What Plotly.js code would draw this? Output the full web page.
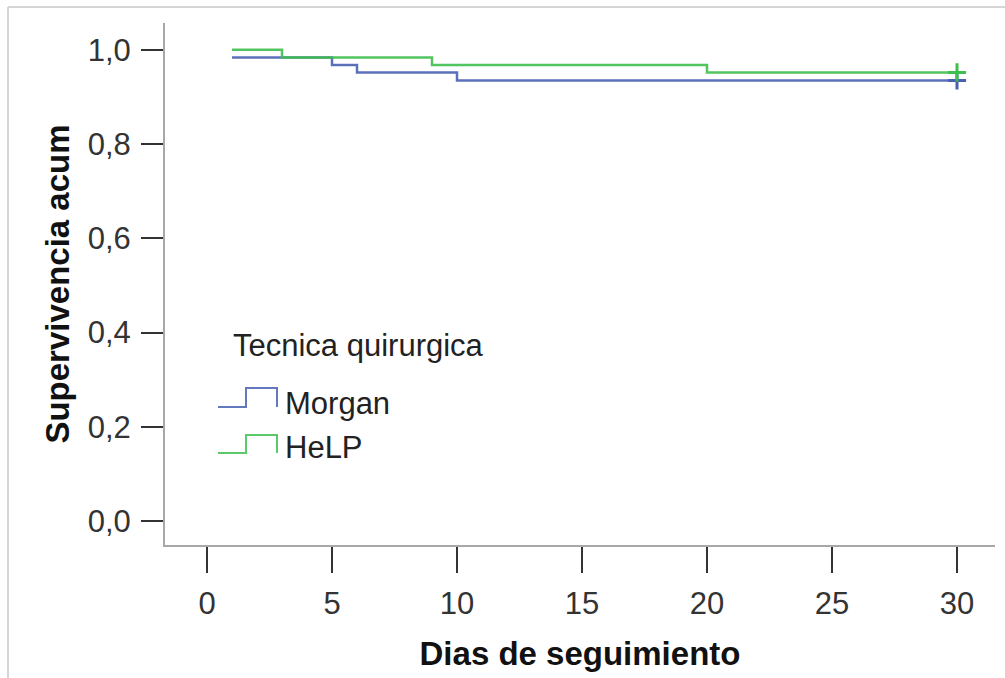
<!DOCTYPE html>
<html>
<head>
<meta charset="utf-8">
<script src="https://cdn.plot.ly/plotly-3.0.1.min.js"></script>
<style>
  html, body { margin: 0; padding: 0; background: #fff; }
  #chart { width: 1005px; height: 678px; }
</style>
</head>
<body>
<div id="chart"></div>
<script>
// ---- Data ----
const seriesNames = ["Morgan", "HeLP"];
const legendTitle = "Tecnica quirurgica";
const morganDays = [1, 5, 6, 10, 30];
const morganSurv = [0.984, 0.968, 0.952, 0.935, 0.935];
const helpDays = [1, 3, 9, 20, 30];
const helpSurv = [1.0, 0.984, 0.968, 0.952, 0.952];
const censorDay = [30];
const morganCensor = [0.935];
const helpCensor = [0.952];
const xTickVals = [0, 5, 10, 15, 20, 25, 30];
const yTickVals = [0, 0.2, 0.4, 0.6, 0.8, 1.0];
const yTickText = ["0,0", "0,2", "0,4", "0,6", "0,8", "1,0"];

// ---- Styles ----
const blue = "#4a61b3";
const green = "#3fbf4f";
const W = 1005, H = 678;
const M = { l: 165, r: 10, t: 23, b: 133 };
const pw = W - M.l - M.r, ph = H - M.t - M.b;
const px = x => (x - M.l) / pw;
const py = y => (H - M.b - y) / ph;
const FONT = "Liberation Sans, Arial, sans-serif";

const traces = [
  { x: morganDays, y: morganSurv, name: seriesNames[0], mode: "lines",
    line: { shape: "hv", color: blue, width: 2.5 }, opacity: 0.9, showlegend: false },
  { x: helpDays, y: helpSurv, name: seriesNames[1], mode: "lines",
    line: { shape: "hv", color: green, width: 2.5 }, opacity: 0.9, showlegend: false },
  { x: censorDay, y: morganCensor, mode: "markers", showlegend: false,
    marker: { symbol: "cross-thin", size: 13, line: { color: blue, width: 3 } } },
  { x: censorDay, y: helpCensor, mode: "markers", showlegend: false,
    marker: { symbol: "cross-thin", size: 13, line: { color: green, width: 3 } } }
];

function stepPath(x0, x1, x2, yLow, yHigh) {
  return `M${px(x0)},${py(yLow)} L${px(x1)},${py(yLow)} L${px(x1)},${py(yHigh)} L${px(x2)},${py(yHigh)} L${px(x2)},${py(yLow)}`;
}

const shapes = [
  // outer frame lines
  { type: "line", xref: "paper", yref: "paper", x0: px(8), x1: px(1005), y0: py(7), y1: py(7),
    line: { color: "#c8c8c8", width: 1.5 } },
  { type: "line", xref: "paper", yref: "paper", x0: px(8), x1: px(8), y0: py(7), y1: py(678),
    line: { color: "#c8c8c8", width: 1.5 } },
  // legend symbols
  { type: "path", xref: "paper", yref: "paper", path: stepPath(218, 246, 277, 407, 388),
    line: { color: blue, width: 2 }, opacity: 0.85 },
  { type: "path", xref: "paper", yref: "paper", path: stepPath(218, 246, 277, 453, 435),
    line: { color: green, width: 2 }, opacity: 0.85 }
];

const annotations = [
  { xref: "paper", yref: "paper", x: px(231), y: py(345), xanchor: "left", yanchor: "middle",
    text: legendTitle, showarrow: false, font: { family: FONT, size: 31, color: "#222" } },
  { xref: "paper", yref: "paper", x: px(283), y: py(404), xanchor: "left", yanchor: "middle",
    text: seriesNames[0], showarrow: false, font: { family: FONT, size: 31, color: "#222" } },
  { xref: "paper", yref: "paper", x: px(283), y: py(447), xanchor: "left", yanchor: "middle",
    text: seriesNames[1], showarrow: false, font: { family: FONT, size: 31, color: "#222" } }
];

const layout = {
  width: W, height: H,
  margin: M,
  paper_bgcolor: "#fff", plot_bgcolor: "#fff",
  font: { family: FONT, color: "#222" },
  showlegend: false,
  xaxis: {
    range: [-1.68, 31.52], tickvals: xTickVals, showgrid: false, zeroline: false,
    showline: true, linecolor: "#a8a8a8", linewidth: 2,
    ticks: "outside", ticklen: 26, tickwidth: 2, tickcolor: "#333",
    ticklabelstandoff: 4,
    tickfont: { family: FONT, size: 31, color: "#333" },
    title: { text: "Dias de seguimiento", font: { family: FONT, size: 33, color: "#111", weight: "bold" }, standoff: 22 },
    automargin: false
  },
  yaxis: {
    range: [-0.051, 1.057], tickvals: yTickVals, ticktext: yTickText, showgrid: false, zeroline: false,
    showline: true, linecolor: "#a8a8a8", linewidth: 2,
    ticks: "outside", ticklen: 22, tickwidth: 2, tickcolor: "#333",
    ticklabelstandoff: 4,
    tickfont: { family: FONT, size: 31, color: "#333" },
    title: { text: "Supervivencia acum", font: { family: FONT, size: 33, color: "#111", weight: "bold" }, standoff: 8 },
    automargin: false
  },
  shapes: shapes,
  annotations: annotations
};

Plotly.newPlot("chart", traces, layout, { displayModeBar: false, staticPlot: true });
</script>
</body>
</html>
